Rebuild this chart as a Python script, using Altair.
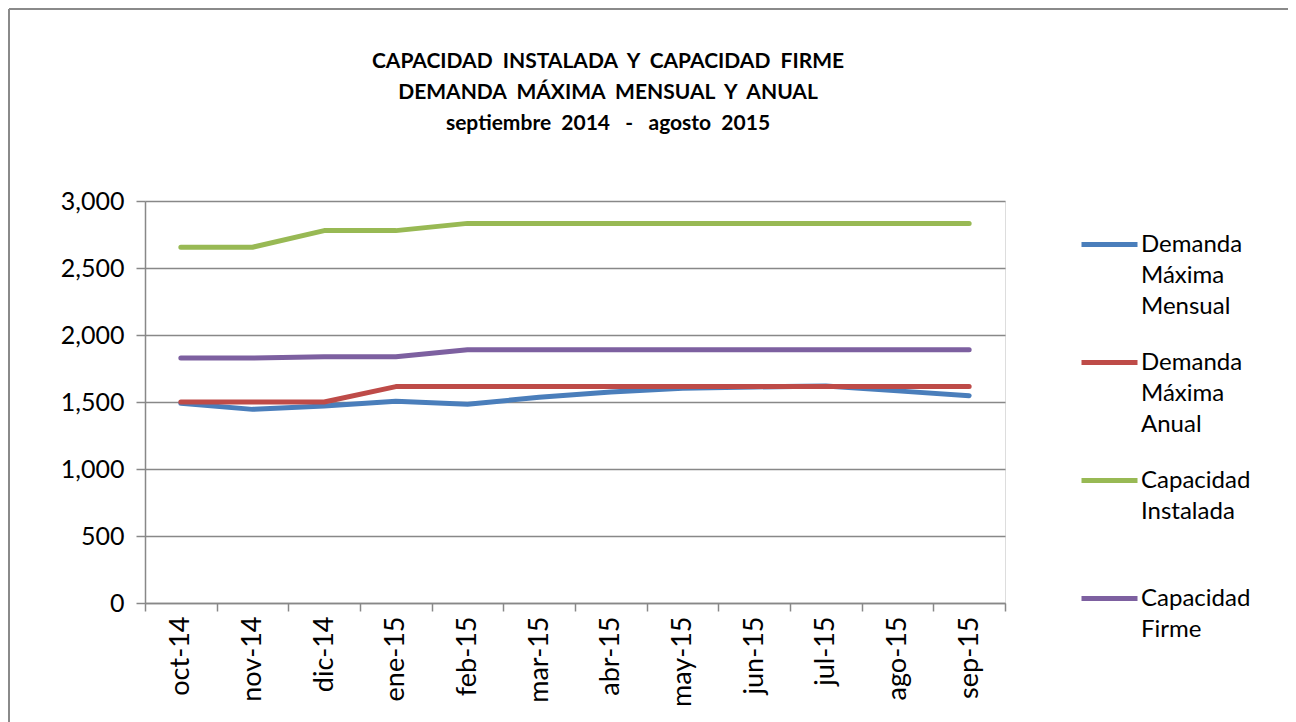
import altair as alt
import pandas as pd

meses = ["oct-14", "nov-14", "dic-14", "ene-15", "feb-15", "mar-15",
         "abr-15", "may-15", "jun-15", "jul-15", "ago-15", "sep-15"]
series = ["Demanda Máxima Mensual", "Demanda Máxima Anual",
          "Capacidad Instalada", "Capacidad Firme"]
demanda_mensual = [1490, 1445, 1470, 1505, 1483, 1535, 1575, 1602, 1612, 1620, 1583, 1547]
demanda_anual = [1500, 1500, 1500, 1615, 1615, 1615, 1615, 1615, 1615, 1615, 1615, 1615]
capacidad_instalada = [2655, 2655, 2779, 2779, 2833, 2833, 2833, 2833, 2833, 2833, 2833, 2833]
capacidad_firme = [1828, 1828, 1838, 1838, 1890, 1890, 1890, 1890, 1890, 1890, 1890, 1890]
colores = ["#4A7EBB", "#BE4B48", "#98B954", "#7D60A0"]
etiquetas = {
    "Demanda Máxima Mensual": "Demanda|Máxima|Mensual",
    "Demanda Máxima Anual": "Demanda|Máxima|Anual",
    "Capacidad Instalada": "Capacidad|Instalada| ",
    "Capacidad Firme": "Capacidad|Firme",
}

rows = []
for s, vals in zip(series, [demanda_mensual, demanda_anual, capacidad_instalada, capacidad_firme]):
    for m, v in zip(meses, vals):
        rows.append({"mes": m, "serie": s, "valor": v, "orden": series.index(s)})
df = pd.DataFrame(rows)

FONT = "Lato"
GRAY = "#888888"
NB = "\u00a0"

label_expr = "split({" + ",".join(f"'{k}':'{v}'" for k, v in etiquetas.items()) + "}[datum.label], '|')"

lines = alt.Chart(df).mark_line(strokeWidth=5, strokeCap="round", strokeJoin="round").encode(
    x=alt.X("mes:N", sort=meses,
            scale=alt.Scale(type="band", paddingInner=0, paddingOuter=0),
            axis=alt.Axis(title=None, labelAngle=-90, tickBand="extent", tickSize=8,
                          grid=False, gridOpacity=0, domainColor=GRAY, tickColor=GRAY,
                          domainWidth=1.5, tickWidth=1.5, labelFontSize=27, labelFont=FONT,
                          labelColor="black", labelPadding=5)),
    y=alt.Y("valor:Q", scale=alt.Scale(domain=[0, 3000]),
            axis=alt.Axis(title=None, values=[0, 500, 1000, 1500, 2000, 2500, 3000], format=",.0f",
                          tickSize=9, grid=True, gridColor=GRAY, gridWidth=1.5,
                          domainColor=GRAY, tickColor=GRAY, domainWidth=1.5, tickWidth=1.5,
                          labelFontSize=25, labelFont=FONT, labelColor="black", labelPadding=12)),
    color=alt.Color("serie:N", scale=alt.Scale(domain=series, range=colores),
                    legend=alt.Legend(title=None, orient="none", legendX=934, legendY=1,
                                      symbolType="M-1,0.43L1,0.43", symbolSize=3136,
                                      symbolStrokeWidth=5,
                                      labelFontSize=24, labelFont=FONT, labelColor="black",
                                      labelOffset=1, labelLimit=300, rowPadding=1, padding=0,
                                      labelExpr=label_expr, labelBaseline="top")),
    order=alt.Order("orden:Q"),
    detail="serie:N",
)

marco = pd.DataFrame({"a": [0]})
borde_izq = alt.Chart(marco).mark_rule(stroke="#8a8a8a", strokeWidth=2).encode(
    x=alt.value(-136), y=alt.value(-192), y2=alt.value(1000)
)
borde_sup = alt.Chart(marco).mark_rule(stroke="#8a8a8a", strokeWidth=2).encode(
    x=alt.value(-136), x2=alt.value(1143), y=alt.value(-192)
)

chart = alt.layer(borde_izq, borde_sup, lines).properties(
    width=860, height=402,
    padding={"left": 137, "top": 193, "right": 283, "bottom": 119},
    autosize=alt.AutoSizeParams(type="none"),
    title=alt.Title(
        text=[f"CAPACIDAD{NB} INSTALADA{NB} Y{NB} CAPACIDAD{NB} FIRME",
              f"DEMANDA{NB} MÁXIMA{NB} MENSUAL{NB} Y{NB} ANUAL",
              f"septiembre{NB} 2014{NB}{NB} -{NB}{NB} agosto{NB} 2015"],
        font=FONT, fontSize=21, fontWeight="bold", color="black", anchor="middle",
        dx=33, offset=62, dy=188, lineHeight=31),
).configure_view(stroke="transparent", strokeWidth=0, strokeOpacity=0).configure(
    background="white",
    style={"guide-label": {"lineHeight": 31}},
)

chart.save("out.html", embed_options={"renderer": "svg", "actions": False})
